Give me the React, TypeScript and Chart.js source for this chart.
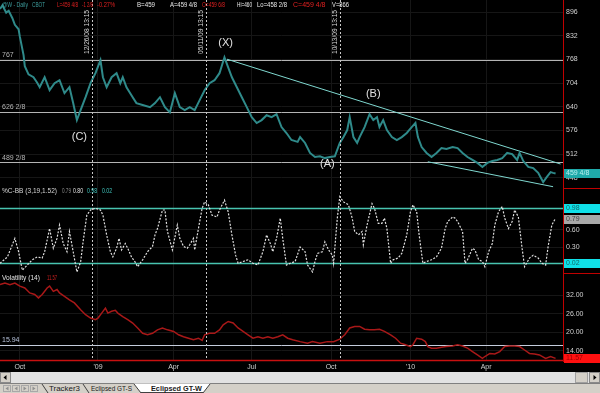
import React, { useEffect, useRef } from 'react';
import { Chart, registerables } from 'chart.js';

Chart.register(...registerables);

const FONT = '"Liberation Sans", Arial, sans-serif';

// ---- price (trading-day index from chart start, price in cents/bu) ----
const priceDays = [
  0, 2, 5, 7, 10, 12, 15, 16, 19, 20,
  23, 27, 30, 32, 36, 40, 44, 48, 52, 56,
  59, 62, 65, 69, 73, 77, 81, 83, 86, 90,
  94, 97, 99, 102, 107, 110, 115, 121, 125, 129,
  133, 137, 141, 145, 149, 153, 157, 161, 165, 169,
  173, 177, 181, 184, 187, 191, 195, 199, 203, 207,
  211, 215, 219, 223, 227, 231, 235, 240, 242, 246,
  250, 254, 258, 262, 266, 270, 274, 277, 280, 282,
  285, 288, 290, 294, 298, 301, 304, 306, 309, 312,
  316, 320, 324, 328, 332, 335, 337, 340, 344, 348,
  352, 356, 360, 365, 369, 373, 377, 381, 385, 389,
  393, 397, 401, 405, 409, 413, 417, 419, 422, 426,
  430, 434, 438, 441, 444, 446, 448,
];
const priceValues = [
  905, 915, 895, 900, 880, 862, 850, 830, 780, 750,
  728, 720, 705, 693, 720, 685, 704, 712, 677, 693,
  650, 604, 631, 666, 704, 731, 766, 720, 693, 720,
  731, 704, 720, 693, 666, 650, 645, 639, 650, 666,
  639, 625, 677, 639, 631, 639, 631, 658, 685, 704,
  712, 731, 774, 747, 720, 693, 666, 639, 612, 596,
  604, 617, 612, 620, 585, 569, 550, 545, 558, 542,
  515, 504, 506, 501, 504, 506, 542, 558, 577, 612,
  558, 542, 558, 585, 620, 604, 612, 585, 604, 577,
  558, 550, 558, 569, 585, 596, 558, 531, 515, 504,
  515, 528, 526, 531, 528, 515, 504, 496, 488, 477,
  488, 493, 496, 501, 515, 512, 496, 515, 493, 477,
  474, 461, 436, 450, 463, 461, 459.5,
];

// ---- %C-BB (3,19,1.52) ----
const cbbDays = [
  0, 6, 12, 15, 18, 22, 26, 30, 34, 36,
  40, 43, 46, 48, 51, 54, 56, 59, 62, 65,
  67, 70, 73, 77, 81, 83, 86, 89, 91, 94,
  96, 98, 101, 103, 106, 109, 111, 115, 119, 123,
  125, 127, 131, 133, 135, 139, 143, 145, 148, 151,
  153, 156, 157, 160, 163, 165, 168, 171, 175, 177,
  181, 184, 187, 190, 192, 196, 200, 204, 208, 212,
  215, 218, 220, 223, 226, 228, 231, 234, 238, 242,
  246, 248, 252, 254, 256, 260, 262, 265, 268, 269,
  272, 274, 277, 281, 284, 286, 289, 292, 293, 296,
  300, 302, 305, 308, 310, 312, 315, 317, 321, 324,
  328, 331, 333, 336, 338, 341, 344, 348, 352, 356,
  359, 361, 365, 367, 369, 373, 375, 377, 381, 383,
  386, 389, 391, 394, 397, 399, 402, 405, 407, 410,
  413, 415, 418, 421, 423, 427, 430, 434, 437, 440,
  442, 445, 448,
];
const cbbValues = [
  0.02, 0.13, 0.45, 0.22, -0.10, -0.01, 0.08, 0.13, 0.11, 0.22,
  0.62, 0.28, 0.45, 0.68, 0.36, 0.22, 0.57, 0.22, -0.13, 0.04,
  0.39, 0.85, 0.94, 0.97, 0.94, 0.85, 0.51, 0.22, 0.13, 0.28,
  0.45, 0.25, 0.36, 0.28, 0.13, 0.04, -0.04, 0.08, 0.22, 0.31,
  0.51, 0.62, 0.94, 0.94, 0.57, 0.25, 0.68, 0.45, 0.31, 0.28,
  0.34, 0.45, 0.25, 0.62, 0.97, 1.08, 1.03, 0.85, 0.82, 0.94,
  1.11, 0.91, 0.51, 0.16, 0.02, 0.05, 0.08, 0.02, -0.01, 0.22,
  0.51, 0.36, 0.22, 0.45, 0.80, 0.45, -0.01, 0.02, 0.05, 0.30,
  0.22, -0.01, -0.13, 0.05, 0.19, 0.22, 0.39, 0.25, 0.16, 0.02,
  0.80, 1.17, 1.08, 1.03, 0.80, 0.57, 0.51, 0.57, 0.34, 0.68,
  1.05, 0.97, 0.71, 0.71, 0.80, 0.62, 0.02, 0.08, 0.11, 0.19,
  0.51, 0.91, 1.03, 0.91, 0.51, 0.02, 0.05, 0.08, 0.13, 0.28,
  0.62, 0.74, 0.82, 0.80, 0.74, 0.57, 0.02, 0.08, 0.28, 0.25,
  0.08, 0.05, -0.04, 0.22, 0.36, 0.68, 0.91, 1.00, 0.80, 0.62,
  0.74, 0.94, 0.82, 0.28, -0.04, 0.11, 0.16, 0.11, 0.02, -0.01,
  0.31, 0.68, 0.80,
];

// ---- Volatility (14) ----
const volDays = [
  0, 4, 8, 12, 16, 20, 24, 28, 31, 34,
  38, 40, 43, 46, 48, 52, 56, 60, 65, 69,
  73, 77, 79, 82, 85, 87, 90, 93, 95, 99,
  103, 107, 111, 115, 119, 123, 127, 131, 135, 140,
  144, 148, 152, 156, 160, 163, 165, 169, 173, 177,
  180, 184, 188, 192, 196, 200, 204, 208, 212, 216,
  220, 224, 228, 232, 236, 242, 248, 252, 258, 264,
  269, 274, 278, 282, 286, 290, 294, 298, 302, 306,
  310, 315, 319, 323, 327, 331, 333, 336, 340, 343,
  345, 348, 352, 356, 360, 365, 369, 373, 377, 381,
  385, 389, 391, 395, 399, 403, 407, 411, 415, 419,
  423, 427, 431, 435, 440, 444, 448,
];
const volValues = [
  35.4, 35.9, 35.4, 35.9, 34.9, 34.3, 32.7, 32.2, 31.1, 32.2,
  34.3, 34.9, 33.2, 33.8, 32.7, 31.6, 30.5, 29.5, 27.3, 25.7,
  24.6, 24.1, 24.6, 26.2, 27.8, 26.2, 26.8, 27.1, 26.2, 25.1,
  24.1, 23.0, 21.4, 19.7, 19.2, 19.7, 20.8, 21.4, 20.8, 20.3,
  19.2, 18.6, 18.1, 17.6, 18.1, 17.4, 19.2, 19.7, 19.7, 20.8,
  22.4, 23.5, 23.0, 21.4, 20.3, 19.2, 18.1, 18.6, 18.1, 18.6,
  18.1, 18.6, 19.2, 18.1, 17.6, 17.0, 16.5, 17.0, 16.5, 17.0,
  17.0, 17.8, 19.2, 21.4, 21.9, 21.9, 21.0, 20.8, 20.8, 21.0,
  20.3, 19.2, 18.1, 16.5, 16.0, 15.4, 16.0, 18.1, 17.8, 17.0,
  15.4, 14.9, 14.9, 15.2, 15.4, 15.6, 16.0, 15.6, 14.9, 13.8,
  12.7, 11.6, 12.2, 13.2, 13.0, 13.8, 15.4, 15.6, 15.6, 15.4,
  14.3, 13.2, 13.0, 12.7, 11.6, 12.2, 11.6,
];

// ---- axes / annotations ----
const monthTickDays = [16, 79, 140, 203, 267, 331, 392];
const monthTickLabels = ['Oct', "'09", 'Apr', 'Jul', 'Oct', "'10", 'Apr'];
const priceTicks = [448, 512, 576, 640, 704, 768, 832, 896];
const cbbTicks = [0.3, 0.6];
const volTicks = [14, 20, 26, 32];
const priceLevels = [767, 626.25, 489.25];
const priceLevelLabels = ['767', '626 2/8', '489 2/8'];
const cbbLevels = [0.98, 0.02];
const volLevel = 15.94;
const volLevelLabel = '15.94';
const eventDays = [74, 166, 274];
const eventLabels = ['12/26/08 13:15', '05/11/09 13:15', '10/13/09 13:15'];
const waveLabels = ['(C)', '(X)', '(A)', '(B)'];
const waveDays = [64, 182, 264, 301];
const wavePrices = [558, 813, 485, 674];
const upperTrendDays = [183, 452];
const upperTrendPrices = [769, 485];
const lowerTrendDays = [345, 446];
const lowerTrendPrices = [491, 423.5];
const lastPrice = 459.5;
const lastPriceLabel = '459 4/8';
const cbbLast = 0.79;
const volLast = 11.57;

const priceHeader: [string, string][] = [
  ['@W - Daily', '#3c9c9c'], ['CBOT', '#3c9c9c'], ['L=459 4/8', '#e02020'], ['-1 2/8', '#e02020'],
  ['-0.27%', '#e02020'], ['B=459', '#e8e8e8'], ['A=459 4/8', '#e8e8e8'], ['O=459 6/8', '#e02020'],
  ['Hi=460', '#e8e8e8'], ['Lo=458 2/8', '#e8e8e8'], ['C=459 4/8', '#e02020'], ['V=866', '#e8e8e8'],
];
const priceHeaderPos = [[2, 26], [32, 13], [57, 21], [82, 11], [97, 18], [137, 18], [170, 27], [202, 23], [237, 15], [257, 30], [293, 33], [332, 17]];
const cbbHeader: [string, string][] = [
  ['%C-BB (3,19,1.52)', '#d4d4d4'], ['0.79', '#909090'], ['0.80', '#e4e4e4'], ['0.98', '#40c8c0'], ['0.02', '#40c8c0'],
];
const cbbHeaderPos = [[2, 55], [62, 9], [73, 10], [87, 10], [102, 10]];
const volHeader: [string, string][] = [['Volatility (14)', '#e4e4e4'], ['11.57', '#d02020']];
const volHeaderPos = [[2, 38], [47, 10]];

function txt(ctx: CanvasRenderingContext2D, s: string, x: number, y: number, color: string, size: number, maxW?: number, align: CanvasTextAlign = 'left', bold = false) {
  ctx.font = `${bold ? 'bold ' : ''}${size}px ${FONT}`;
  ctx.fillStyle = color;
  ctx.textAlign = align;
  ctx.textBaseline = 'middle';
  if (maxW) ctx.fillText(s, x, y, maxW);
  else ctx.fillText(s, x, y);
}

function hline(ctx: CanvasRenderingContext2D, y: number, x0: number, x1: number, color: string, w: number, dash: number[] = []) {
  ctx.beginPath();
  ctx.setLineDash(dash);
  ctx.strokeStyle = color;
  ctx.lineWidth = w;
  ctx.moveTo(x0, y);
  ctx.lineTo(x1, y);
  ctx.stroke();
  ctx.setLineDash([]);
}

const overlay = {
  id: 'overlay',
  beforeDraw(chart: any) {
    const { ctx, width, height } = chart;
    ctx.save();
    ctx.fillStyle = '#000';
    ctx.fillRect(0, 0, width, height);
    ctx.restore();
  },
  beforeDatasetsDraw(chart: any) {
    const { ctx, chartArea: ca, scales } = chart;
    const { yP, yC, yV } = scales;
    ctx.save();
    priceLevels.forEach((v) => hline(ctx, Math.round(yP.getPixelForValue(v)) + 0.5, ca.left, ca.right, '#b4b4b4', 1));
    cbbLevels.forEach((v) => hline(ctx, Math.round(yC.getPixelForValue(v)) + 0.5, ca.left, ca.right, '#48c4b0', 1.5));
    hline(ctx, Math.round(yV.getPixelForValue(volLevel)) + 0.5, ca.left, ca.right, '#c4ccdc', 1);
    ctx.restore();
  },
  afterDatasetsDraw(chart: any) {
    const { ctx, chartArea: ca, scales, width } = chart;
    const { x, yP, yC, yV } = scales;
    ctx.save();
    // event lines
    eventDays.forEach((d, i) => {
      const px = Math.round(x.getPixelForValue(d)) + 0.5;
      ctx.beginPath();
      ctx.setLineDash([2, 2]);
      ctx.strokeStyle = '#c8c8c8';
      ctx.lineWidth = 1;
      ctx.moveTo(px, ca.top);
      ctx.lineTo(px, ca.bottom);
      ctx.stroke();
      ctx.setLineDash([]);
      ctx.save();
      ctx.translate(px - 5.5, ca.top + 10);
      ctx.rotate(-Math.PI / 2);
      txt(ctx, eventLabels[i], 0, 0, '#d8d8d8', 7, 44, 'right');
      ctx.restore();
    });
    // level labels
    priceLevels.forEach((v, i) => txt(ctx, priceLevelLabels[i], ca.left + 2, yP.getPixelForValue(v) - 4.5, '#b4b4b4', 7));
    txt(ctx, volLevelLabel, ca.left + 2, yV.getPixelForValue(volLevel) - 4.5, '#b8c4dc', 7);
    // wave labels
    waveLabels.forEach((s, i) => txt(ctx, s, x.getPixelForValue(waveDays[i]), yP.getPixelForValue(wavePrices[i]), '#e0e0e0', 11, undefined, 'center'));
    // headers
    priceHeader.forEach(([s, c], i) => txt(ctx, s, priceHeaderPos[i][0], yP.top + 5, c, 7, priceHeaderPos[i][1]));
    cbbHeader.forEach(([s, c], i) => txt(ctx, s, cbbHeaderPos[i][0], yC.top + 3.5, c, 7, cbbHeaderPos[i][1]));
    volHeader.forEach(([s, c], i) => txt(ctx, s, volHeaderPos[i][0], yV.top + 5.5, c, 7, volHeaderPos[i][1]));
    // bottom red line
    hline(ctx, ca.bottom - 0.5, ca.left, ca.right, '#c81010', 1.5);
    // axis value boxes
    const box = (y: number, bg: string, fg: string, s: string) => {
      ctx.fillStyle = bg;
      ctx.fillRect(ca.right + 1, Math.round(y) - 4, width - ca.right - 1, 9);
      txt(ctx, s, ca.right + 3, Math.round(y) + 0.5, fg, 7);
    };
    box(yP.getPixelForValue(lastPrice), '#1faaaa', '#b8f0f0', lastPriceLabel);
    box(yC.getPixelForValue(0.98), '#10e0e8', '#106868', '0.98');
    box(yC.getPixelForValue(cbbLast), '#a8a8a8', '#404040', cbbLast.toFixed(2));
    box(yC.getPixelForValue(0.02), '#10e0e8', '#106868', '0.02');
    box(yV.getPixelForValue(volLast), '#ff1010', '#a00000', volLast.toFixed(2));
    // red separators in the axis column
    hline(ctx, Math.round(yP.bottom) + 0.5, ca.right, width, '#c00000', 1);
    hline(ctx, Math.round(yC.bottom) + 0.5, ca.right, width, '#c00000', 1);
    ctx.restore();
  },
};

const noPad = (s: any) => {
  s.paddingTop = 0;
  s.paddingBottom = 0;
  s.paddingLeft = 0;
  s.paddingRight = 0;
};

function yScale(min: number, max: number, ticks: number[], fmt: (v: number) => string, weight: number) {
  return {
    type: 'linear',
    position: 'right',
    stack: 'panes',
    stackWeight: weight,
    min,
    max,
    offset: false,
    afterFit: (s: any) => { s.width = 37; noPad(s); },
    afterBuildTicks: (s: any) => { s.ticks = ticks.map((v) => ({ value: v })); },
    ticks: { color: '#d0d0d0', font: { family: FONT, size: 7 }, padding: 3, autoSkip: false, callback: (v: any) => fmt(Number(v)) },
    grid: { color: '#161616', drawTicks: false },
    border: { color: '#c00000', width: 1 },
  };
}

export default function App() {
  const ref = useRef<HTMLCanvasElement>(null);
  useEffect(() => {
    const canvas = ref.current!;
    const pts = (xs: number[], ys: number[]) => xs.slice(0, Math.min(xs.length, ys.length)).map((d, i) => ({ x: d, y: ys[i] }));
    const chart = new Chart(canvas, {
      type: 'line',
      data: {
        datasets: [
          { data: pts(priceDays, priceValues), yAxisID: 'yP', borderColor: '#2f8a8a', borderWidth: 2, pointRadius: 0, tension: 0 },
          { data: pts(upperTrendDays, upperTrendPrices), yAxisID: 'yP', borderColor: '#7fd8d0', borderWidth: 1, pointRadius: 0 },
          { data: pts(lowerTrendDays, lowerTrendPrices), yAxisID: 'yP', borderColor: '#7fd8d0', borderWidth: 1, pointRadius: 0 },
          { data: pts(cbbDays, cbbValues), yAxisID: 'yC', borderColor: '#e0e0e0', borderWidth: 1.2, borderDash: [2, 1.5], pointRadius: 0, tension: 0 },
          { data: pts(volDays, volValues), yAxisID: 'yV', borderColor: '#a81818', borderWidth: 1.5, pointRadius: 0, tension: 0 },
        ] as any,
      },
      options: {
        animation: false,
        responsive: false,
        devicePixelRatio: 1,
        layout: { padding: 0 },
        plugins: { legend: { display: false }, tooltip: { enabled: false } },
        events: [],
        scales: {
          x: {
            type: 'linear',
            position: 'bottom',
            min: 0,
            max: 454,
            afterFit: (s: any) => { s.height = 11; noPad(s); },
            afterBuildTicks: (s: any) => { s.ticks = monthTickDays.map((v) => ({ value: v })); },
            ticks: {
              color: '#d0d0d0', font: { family: FONT, size: 7 }, padding: 2, autoSkip: false, maxRotation: 0,
              callback: (v: any) => { const i = monthTickDays.indexOf(Number(v)); return i >= 0 ? monthTickLabels[i] : ''; },
            },
            grid: { color: '#161616', drawTicks: false },
            border: { display: false },
          },
          yP: yScale(420, 929.3, priceTicks, (v) => String(v), 188),
          yC: yScale(-0.148, 1.32, cbbTicks, (v) => v.toFixed(2), 85),
          yV: yScale(10.75, 39.14, volTicks, (v) => v.toFixed(2), 88),
        } as any,
      },
      plugins: [overlay],
    });
    return () => chart.destroy();
  }, []);

  const tabText = { fontFamily: FONT, fontSize: 8, fill: '#1a1a1a' } as const;
  return (
    <div style={{ position: 'fixed', left: 0, top: 0, width: 600, height: 393, background: '#000', overflow: 'hidden' }}>
      <canvas ref={ref} width={600} height={372} style={{ position: 'absolute', left: 0, top: 0, width: 600, height: 372 }} />
      <svg width={600} height={21} style={{ position: 'absolute', left: 0, top: 372, display: 'block' }}>
        <rect x={0} y={0} width={600} height={11} fill="#e2e2e2" />
        <rect x={0.5} y={0.5} width={10} height={10} fill="#d4d0c8" stroke="#8a8a8a" />
        <polygon points="6.5,3 3.5,5.5 6.5,8" fill="#000" />
        <rect x={575.5} y={0.5} width={12} height={10} fill="#d4d0c8" stroke="#a0a0a0" />
        <rect x={589.5} y={0.5} width={10} height={10} fill="#d4d0c8" stroke="#8a8a8a" />
        <polygon points="593.5,3 596.5,5.5 593.5,8" fill="#000" />
        <rect x={0} y={11} width={600} height={10} fill="#d4d0c8" />
        <line x1={0} y1={11.5} x2={600} y2={11.5} stroke="#808080" />
        {[3, 12, 21, 30].map((bx, i) => (
          <g key={i}>
            <rect x={bx + 0.5} y={13.5} width={7} height={6} fill="#d4d0c8" stroke="#a8a8a8" />
            <polygon points={i < 2 ? `${bx + 5.5},14.5 ${bx + 2.5},16.5 ${bx + 5.5},18.5` : `${bx + 2.5},14.5 ${bx + 5.5},16.5 ${bx + 2.5},18.5`} fill="#909090" />
          </g>
        ))}
        <polygon points="134,11.5 141,21 203,21 210,11.5" fill="#ffffff" />
        <line x1={42} y1={12} x2={48} y2={21} stroke="#404040" />
        <line x1={83} y1={12} x2={89} y2={21} stroke="#404040" />
        <line x1={134} y1={12} x2={141} y2={21} stroke="#404040" />
        <line x1={210} y1={12} x2={203} y2={21} stroke="#404040" />
        <line x1={141} y1={20.5} x2={203} y2={20.5} stroke="#404040" />
        <text x={49} y={19} {...tabText} textLength={31} lengthAdjust="spacingAndGlyphs">Tracker3</text>
        <text x={91} y={19} {...tabText} textLength={41} lengthAdjust="spacingAndGlyphs">Eclipsed GT-S</text>
        <text x={151} y={19} {...tabText} fontWeight="bold" textLength={51} lengthAdjust="spacingAndGlyphs">Eclipsed GT-W</text>
      </svg>
    </div>
  );
}
